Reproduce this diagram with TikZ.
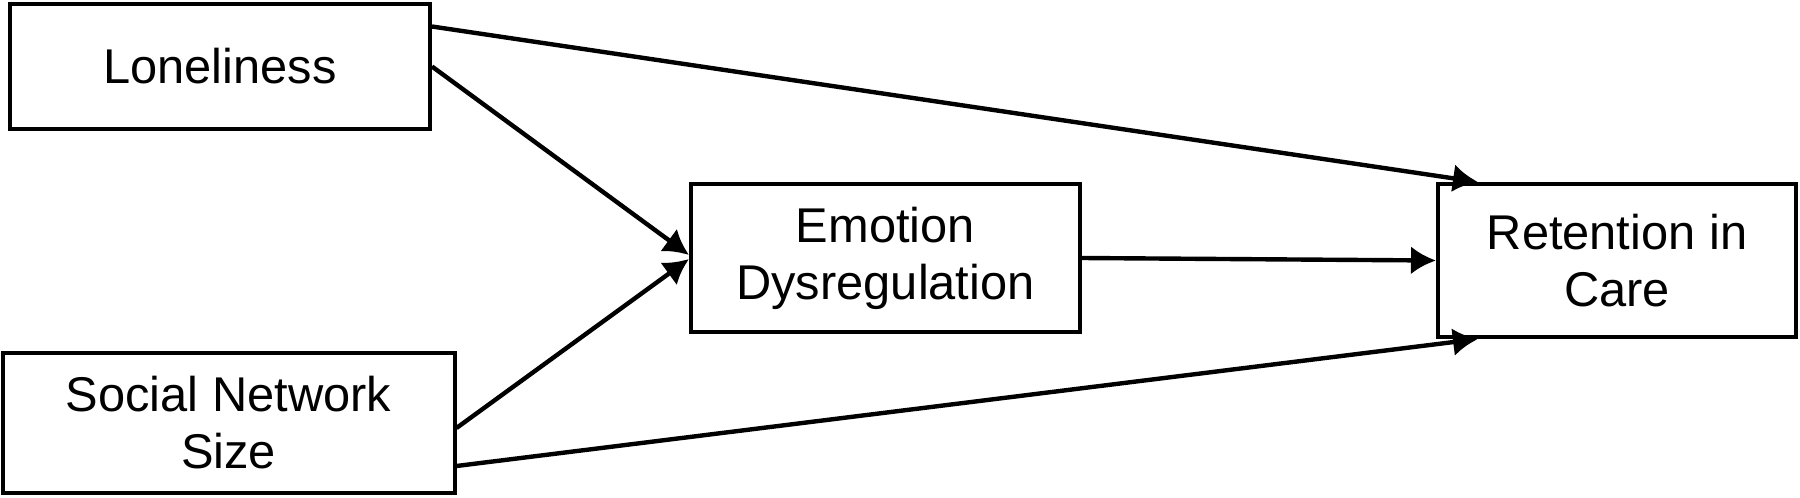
\documentclass[tikz,border=0pt]{standalone}
\usepackage{fontspec}
\setmainfont{Liberation Sans}
\usetikzlibrary{arrows.meta}

\begin{document}
\begin{tikzpicture}[x=0.5pt, y=-0.5pt,
    box/.style={draw, line width=2pt, inner sep=0pt, align=center,
      font=\fontsize{24.4}{28.5}\selectfont},
    path/.style={line width=2.2pt, -{Latex[length=12.5pt,width=14pt]}}]
  \useasboundingbox (0,0) rectangle (1800,498);
  \node[box, minimum width=210pt, minimum height=62.5pt] (lonely) at (220,66.5) {Loneliness};
  \node[box, minimum width=226pt, minimum height=70pt] (social) at (228.5,423) {Social Network\\Size};
  \node[box, minimum width=194.5pt, minimum height=74pt] (emotion) at (885.5,258) {Emotion\\Dysregulation};
  \node[box, minimum width=179pt, minimum height=76.5pt] (retain) at (1617,260.5) {Retention in\\Care};
  % direct paths
  \draw[path] ([yshift=20pt]lonely.east) -- ([xshift=21pt]retain.north west);
  \draw[path] ([yshift=-21.5pt]social.east) -- ([xshift=21pt]retain.south west);
  % through emotion dysregulation
  \draw[path] (lonely.east) -- ([yshift=1.5pt]emotion.west);
  \draw[path] ([yshift=-2.5pt]social.east) -- ([yshift=-0.5pt]emotion.west);
  \draw[path] (emotion.east) -- (retain.west);
\end{tikzpicture}
\end{document}
